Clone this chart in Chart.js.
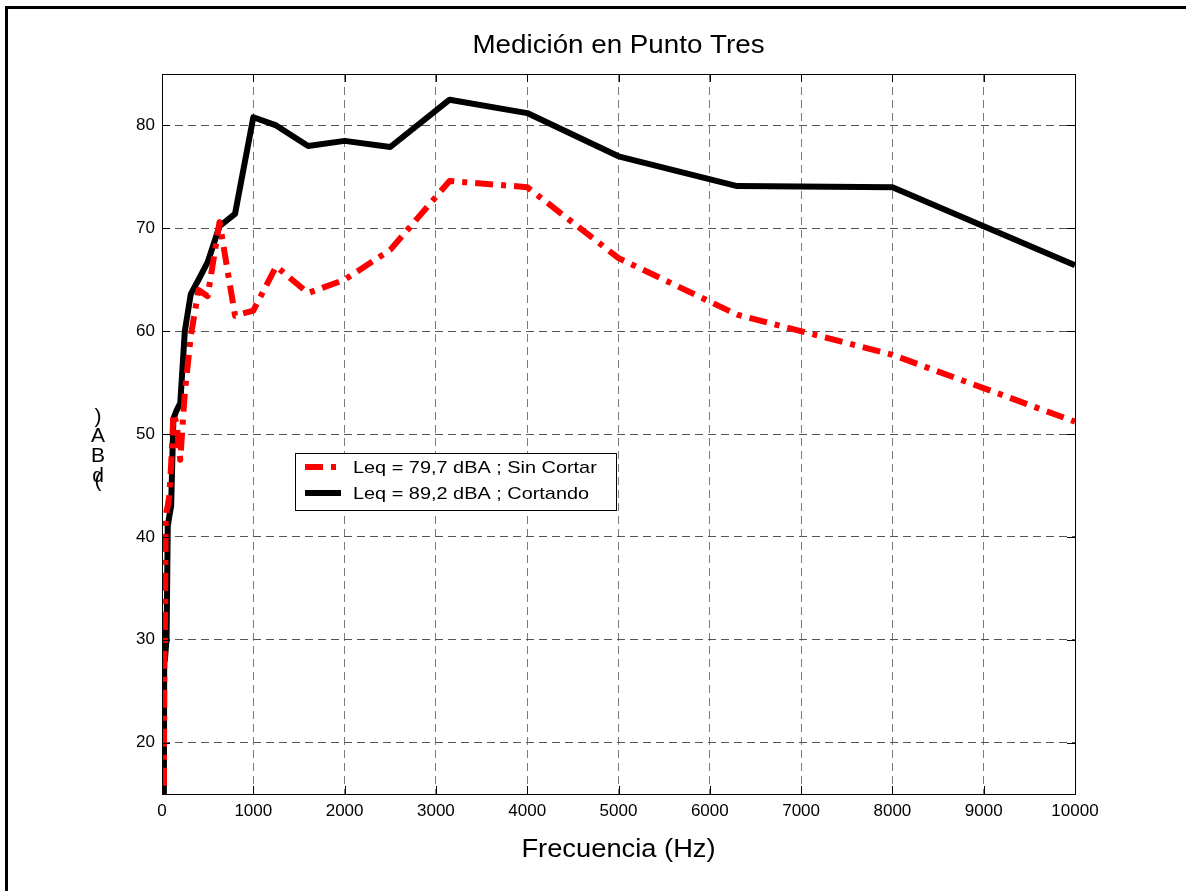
<!DOCTYPE html>
<html>
<head>
<meta charset="utf-8">
<script src="https://cdn.jsdelivr.net/npm/chart.js@4/dist/chart.umd.min.js"></script>
<style>
  html, body { margin: 0; padding: 0; background: #fff; }
  #wrap { position: relative; width: 1186px; height: 891px; overflow: hidden; }
  #frame { position: absolute; left: 5px; top: 6px; width: 1300px; height: 1000px;
           border-top: 3px solid #000; border-left: 3px solid #000; }
  canvas { position: absolute; left: 0; top: 0; }
</style>
</head>
<body>
<div id="wrap">
  <div id="frame"></div>
  <canvas id="chart" width="1186" height="891"></canvas>
</div>
<script>
// third-octave band centres (Hz)
const freqs = [20, 25, 31.5, 40, 50, 63, 80, 100, 125, 160, 200, 250, 315, 400, 500,
  630, 800, 1000, 1250, 1600, 2000, 2500, 3150, 4000, 5000, 6300, 8000, 10000];
// Leq = 79,7 dBA ; Sin Cortar
const sinCortar = [12, 28, 30, 42, 42.5, 43, 44, 47, 52, 51, 47.5, 54, 59.5, 64, 63.4,
  70.6, 61.5, 62.0, 66.3, 63.7, 65.0, 67.9, 74.6, 74.0, 67.1, 61.6, 57.7, 51.2];
// Leq = 89,2 dBA ; Cortando
const cortando = [12, 31, 28, 29, 30, 41, 42, 43, 51.5, 52.3, 53, 60, 63.6, 65.0, 66.7,
  70.2, 71.4, 80.8, 80.0, 78.0, 78.5, 77.9, 82.5, 81.2, 77.0, 74.1, 74.0, 66.4];

const xTicks = [0, 1000, 2000, 3000, 4000, 5000, 6000, 7000, 8000, 9000, 10000];
const yTicks = [20, 30, 40, 50, 60, 70, 80];

const labelSin = "Leq = 79,7 dBA ; Sin Cortar";
const labelCor = "Leq = 89,2 dBA ; Cortando";
const font = "Arial, 'Liberation Sans', sans-serif";

function toPoints(ys) {
  return freqs.map((f, i) => ({ x: f, y: ys[i] }));
}

// text drawn a little wider than normal, like the original export
function wideText(ctx, text, x, y, sx) {
  ctx.save();
  ctx.translate(x, y);
  ctx.scale(sx, 1);
  ctx.fillText(text, 0, 0);
  ctx.restore();
}

const decorations = {
  id: "decorations",
  afterDraw(chart) {
    const ctx = chart.ctx;
    const a = chart.chartArea;
    const xs = chart.scales.x, ys = chart.scales.y;
    ctx.save();
    // axes box
    ctx.strokeStyle = "#000";
    ctx.lineWidth = 1;
    ctx.strokeRect(a.left + 0.5, a.top + 0.5, a.right - a.left, a.bottom - a.top);
    // inward tick marks
    ctx.beginPath();
    xTicks.forEach(v => {
      const px = Math.round(xs.getPixelForValue(v)) + 0.5;
      ctx.moveTo(px, a.bottom); ctx.lineTo(px, a.bottom - 8);
      ctx.moveTo(px, a.top); ctx.lineTo(px, a.top + 8);
    });
    yTicks.forEach(v => {
      const py = Math.round(ys.getPixelForValue(v)) + 0.5;
      ctx.moveTo(a.left, py); ctx.lineTo(a.left + 8, py);
      ctx.moveTo(a.right, py); ctx.lineTo(a.right - 8, py);
    });
    ctx.stroke();

    // title
    ctx.fillStyle = "#000";
    ctx.textAlign = "center";
    ctx.textBaseline = "middle";
    ctx.font = "25px " + font;
    wideText(ctx, "Medición en Punto Tres", (a.left + a.right) / 2, 46, 1.11);

    // x title
    ctx.font = "26px " + font;
    wideText(ctx, "Frecuencia (Hz)", (a.left + a.right) / 2, 850, 1.05);

    // y title, glyphs stacked upright as in the original
    ctx.font = "21px " + font;
    const yChars = [[")", 417], ["A", 436], ["B", 456], ["d", 476], ["(", 481]];
    yChars.forEach(c => ctx.fillText(c[0], 98, c[1]));

    // legend
    const lx = 295, ly = 453, lw = 321, lh = 57;
    ctx.fillStyle = "#fff";
    ctx.fillRect(lx, ly, lw, lh);
    ctx.strokeStyle = "#000";
    ctx.lineWidth = 1;
    ctx.strokeRect(lx + 0.5, ly + 0.5, lw, lh);
    const rows = [
      { ds: chart.data.datasets[0], y: ly + 14 },
      { ds: chart.data.datasets[1], y: ly + 40 }
    ];
    rows.forEach(r => {
      ctx.beginPath();
      ctx.strokeStyle = r.ds.borderColor;
      ctx.lineWidth = r.ds.borderWidth;
      ctx.setLineDash(r.ds.borderDash || []);
      ctx.moveTo(lx + 10, r.y);
      ctx.lineTo(lx + 46, r.y);
      ctx.stroke();
      ctx.setLineDash([]);
      ctx.fillStyle = "#000";
      ctx.font = "17px " + font;
      ctx.textAlign = "left";
      wideText(ctx, r.ds.label, lx + 58, r.y + 1, 1.17);
    });
    ctx.restore();
  }
};

new Chart(document.getElementById("chart").getContext("2d"), {
  type: "line",
  data: {
    datasets: [
      {
        label: labelSin,
        data: toPoints(sinCortar),
        borderColor: "#ff0000",
        borderWidth: 6,
        borderDash: [18, 8, 5, 8],
        borderJoinStyle: "round",
        pointRadius: 0,
        tension: 0,
      },
      {
        label: labelCor,
        data: toPoints(cortando),
        borderColor: "#000000",
        borderWidth: 6,
        borderJoinStyle: "round",
        pointRadius: 0,
        tension: 0,
      },
    ],
  },
  options: {
    responsive: false,
    animation: false,
    maintainAspectRatio: false,
    layout: { padding: { left: 0, top: 74, right: 111, bottom: 0 } },
    plugins: { legend: { display: false }, tooltip: { enabled: false } },
    scales: {
      x: {
        type: "linear",
        min: 0,
        max: 10000,
        afterBuildTicks: axis => { axis.ticks = xTicks.map(v => ({ value: v })); },
        afterFit: scale => { scale.height = 97; },
        ticks: {
          font: { family: font, size: 17 },
          color: "#000",
          padding: 7,
          maxRotation: 0,
          autoSkip: false,
          callback: v => String(v),
        },
        grid: { color: "#7a7a7a", lineWidth: 1, drawTicks: false },
        border: { display: false, dash: [8, 5] },
      },
      y: {
        type: "linear",
        min: 15,
        max: 85,
        afterBuildTicks: axis => { axis.ticks = yTicks.map(v => ({ value: v })); },
        afterFit: scale => { scale.width = 162; },
        ticks: {
          font: { family: font, size: 17 },
          color: "#000",
          padding: 7,
        },
        grid: { color: "#555", lineWidth: 1, drawTicks: false },
        border: { display: false, dash: [8, 5] },
      },
    },
  },
  plugins: [decorations],
});
</script>
</body>
</html>
